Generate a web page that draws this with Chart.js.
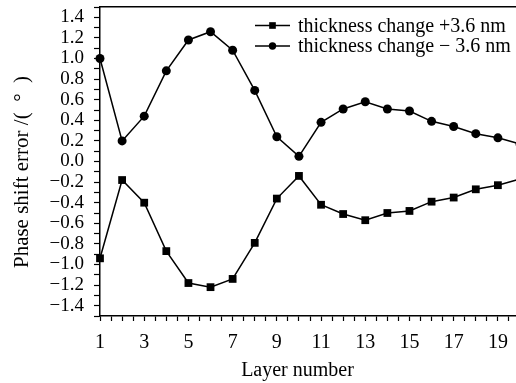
<!DOCTYPE html>
<html>
<head>
<meta charset="utf-8">
<script src="https://cdn.jsdelivr.net/npm/chart.js@4.4.1/dist/chart.umd.min.js"></script>
<style>
    html, body { margin: 0; padding: 0; background: #fff; overflow: hidden; }
    #wrap { width: 530px; height: 383px; }
</style>
</head>
<body>
<div id="wrap"><canvas id="phaseChart"></canvas></div>
<script>
// layer numbers on the x axis
const layers = [1, 2, 3, 4, 5, 6, 7, 8, 9, 10, 11, 12, 13, 14, 15, 16, 17, 18, 19, 20];

// phase shift error (degrees)
const plusValues = [-0.94, -0.18, -0.40, -0.87, -1.18, -1.22, -1.14, -0.79, -0.36, -0.14,
    -0.42, -0.51, -0.57, -0.50, -0.48, -0.39, -0.35, -0.27, -0.23, -0.17];
const minusValues = [1.00, 0.20, 0.44, 0.88, 1.18, 1.26, 1.08, 0.69, 0.24, 0.05,
    0.38, 0.51, 0.58, 0.51, 0.49, 0.39, 0.34, 0.27, 0.23, 0.17];

const seriesNames = ['thickness change +3.6 nm', 'thickness change \u2212 3.6 nm'];

const serif = "'Liberation Serif', 'Times New Roman', serif";

function toPoints(values) {
    return layers.map((l, i) => ({ x: l, y: values[i] }));
}

// legend drawn inside the plot, top right
const innerLegend = {
    id: 'innerLegend',
    afterDraw(chart) {
        const ctx = chart.ctx;
        const rows = [25.5, 46];
        ctx.save();
        chart.data.datasets.forEach((ds, i) => {
            const y = rows[i];
            ctx.strokeStyle = '#000';
            ctx.lineWidth = 1.5;
            ctx.beginPath();
            ctx.moveTo(255, y);
            ctx.lineTo(290, y);
            ctx.stroke();
            ctx.fillStyle = '#000';
            Chart.helpers.drawPoint(ctx, {
                pointStyle: ds.pointStyle,
                radius: ds.pointRadius - 0.8,
                borderWidth: 0,
                rotation: 0
            }, 272.5, y);
            ctx.font = '20px ' + serif;
            ctx.textBaseline = 'middle';
            ctx.textAlign = 'left';
            ctx.fillText(ds.label, 298, y + 1);
        });
        ctx.restore();
    }
};

const ctx = document.getElementById('phaseChart').getContext('2d');
new Chart(ctx, {
    type: 'line',
    data: {
        datasets: [{
            label: seriesNames[0],
            data: toPoints(plusValues),
            borderColor: '#000',
            backgroundColor: '#000',
            borderWidth: 1.5,
            pointStyle: 'rect',
            pointRadius: 5.5,
            pointBorderWidth: 0,
            tension: 0,
            clip: false
        }, {
            label: seriesNames[1],
            data: toPoints(minusValues),
            borderColor: '#000',
            backgroundColor: '#000',
            borderWidth: 1.5,
            pointStyle: 'circle',
            pointRadius: 4.5,
            pointBorderWidth: 0,
            tension: 0,
            clip: false
        }]
    },
    options: {
        responsive: true,
        maintainAspectRatio: false,
        animation: false,
        layout: { padding: { top: 7, right: 10, left: 0, bottom: 0 } },
        plugins: {
            legend: { display: false },
            tooltip: { enabled: false }
        },
        scales: {
            x: {
                type: 'linear',
                min: 1,
                max: 20,
                afterFit: (scale) => {
                    scale.height = 67;
                    scale.paddingLeft = 0;
                    scale.paddingRight = 0;
                },
                border: { color: '#000', width: 1.5 },
                grid: { drawOnChartArea: false, tickLength: 5, tickColor: '#000', tickWidth: 1.2 },
                ticks: {
                    stepSize: 0.5,
                    autoSkip: false,
                    maxTicksLimit: 100,
                    maxRotation: 0,
                    padding: 10,
                    color: '#000',
                    font: { family: serif, size: 20 },
                    callback: (v) => (Number.isInteger(v) && v % 2 === 1) ? String(v) : ''
                },
                title: {
                    display: true,
                    text: 'Layer number     ',
                    color: '#000',
                    font: { family: serif, size: 20 },
                    padding: { top: 0, bottom: 0 }
                }
            },
            xTop: {
                type: 'linear',
                position: 'top',
                min: 1,
                max: 20,
                afterFit: (scale) => { scale.height = 0; },
                border: { color: '#000', width: 1.5 },
                grid: { drawOnChartArea: false, drawTicks: false },
                ticks: { display: false }
            },
            y: {
                min: -1.5,
                max: 1.5,
                afterFit: (scale) => {
                    scale.width = 100;
                    scale.paddingTop = 0;
                    scale.paddingBottom = 0;
                },
                border: { color: '#000', width: 1.5 },
                grid: { drawOnChartArea: false, tickLength: 6, tickColor: '#000', tickWidth: 1.2 },
                ticks: {
                    stepSize: 0.1,
                    autoSkip: false,
                    maxTicksLimit: 100,
                    padding: 10,
                    color: '#000',
                    font: { family: serif, size: 19 },
                    callback: (v) => {
                        const t = Math.round(v * 10);
                        if (t % 2 !== 0) return '';
                        return (t / 10).toFixed(1).replace('-', '\u2212');
                    }
                },
                title: {
                    display: true,
                    text: 'Phase shift error /(  \u00b0  )    ',
                    color: '#000',
                    font: { family: serif, size: 21 },
                    padding: { top: 10, bottom: 0 }
                }
            }
        }
    },
    plugins: [innerLegend]
});
</script>
</body>
</html>
